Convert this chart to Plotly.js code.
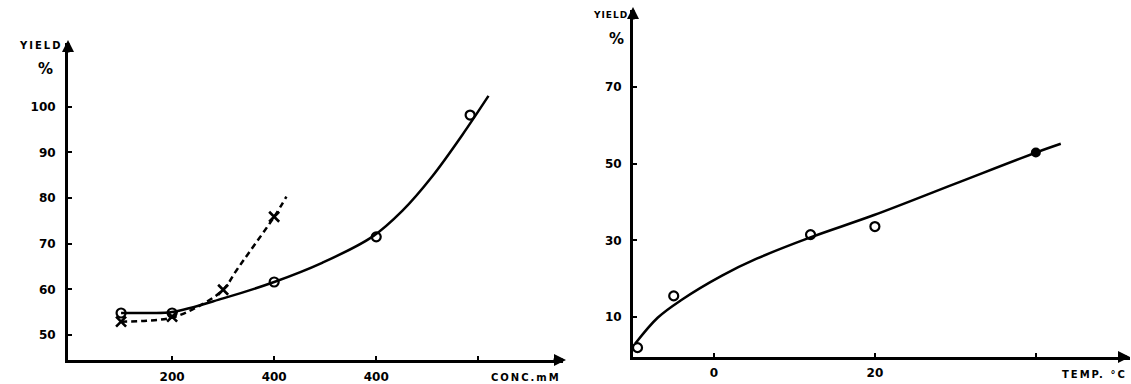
<!DOCTYPE html>
<html>
<head>
<meta charset="utf-8">
<script src="https://cdn.plot.ly/plotly-3.0.1.min.js"></script>
<style>html,body{margin:0;padding:0;background:#fff;}#chart{width:1131px;height:384px;}</style>
</head>
<body>
<div id="chart"></div>
<script>
// ---- Left panel: yield vs concentration ----
const concCircleX = [100, 200, 400, 600, 784];
const concCircleY = [54.8, 54.8, 61.6, 71.5, 98.2];
const concCrossX = [100, 200, 300, 400];
const concCrossY = [52.9, 54.0, 59.9, 75.9];
const concSolidX = [100, 150, 200, 300, 400, 494, 592, 651, 710, 769, 820];
const concSolidY = [54.8, 54.8, 55.0, 58.0, 61.6, 65.8, 71.5, 77.2, 84.8, 93.9, 102.4];
const concDashX = [100, 150, 200, 249, 300, 327, 353, 400, 424];
const concDashY = [52.9, 53.1, 53.8, 56.1, 59.9, 64.3, 68.4, 75.9, 80.3];
const concTickVals = [200, 400, 600, 800];
const concTickText = ["200", "400", "400", ""];
const yieldLeftTicks = [50, 60, 70, 80, 90, 100];

// ---- Right panel: yield vs temperature ----
const tempOpenX = [-9.5, -5, 12, 20];
const tempOpenY = [2.0, 15.5, 31.5, 33.6];
const tempFilledX = [40];
const tempFilledY = [52.9];
const tempCurveX = [-9.8, -7, -4, 1, 5.3, 11.9, 19.9, 30, 40, 43.1];
const tempCurveY = [3, 9.8, 14.5, 20.8, 25.2, 30.7, 36.6, 44.8, 52.9, 55.2];
const tempTickVals = [0, 20, 40];
const tempTickText = ["0", "20", ""];
const yieldRightTicks = [10, 30, 50, 70];

const W = 1131, H = 384;
const px = v => v / W;
const py = v => 1 - v / H;
const FONT = "DejaVu Sans, Liberation Sans, Arial, sans-serif";

const traces = [
  {x: concSolidX, y: concSolidY, xaxis: 'x', yaxis: 'y', mode: 'lines',
   line: {color: '#000', width: 2.5, shape: 'spline', smoothing: 1}, hoverinfo: 'skip'},
  {x: concDashX, y: concDashY, xaxis: 'x', yaxis: 'y', mode: 'lines',
   line: {color: '#000', width: 2.5, dash: '6px,4px', shape: 'spline', smoothing: 1}, hoverinfo: 'skip'},
  {x: concCircleX, y: concCircleY, xaxis: 'x', yaxis: 'y', mode: 'markers',
   marker: {symbol: 'circle-open', size: 9, color: '#000', line: {width: 2.2, color: '#000'}}},
  {x: concCrossX, y: concCrossY, xaxis: 'x', yaxis: 'y', mode: 'markers',
   marker: {symbol: 'x-thin-open', size: 10, color: '#000', line: {width: 2.6, color: '#000'}}},
  {x: tempCurveX, y: tempCurveY, xaxis: 'x2', yaxis: 'y2', mode: 'lines',
   line: {color: '#000', width: 2.5, shape: 'spline', smoothing: 1}, hoverinfo: 'skip'},
  {x: tempOpenX, y: tempOpenY, xaxis: 'x2', yaxis: 'y2', mode: 'markers',
   marker: {symbol: 'circle-open', size: 9, color: '#000', line: {width: 2.2, color: '#000'}}},
  {x: tempFilledX, y: tempFilledY, xaxis: 'x2', yaxis: 'y2', mode: 'markers',
   marker: {symbol: 'circle', size: 10, color: '#000'}}
];

const axisCommon = {
  showgrid: false, zeroline: false, showline: true, linecolor: '#000', linewidth: 3,
  ticks: 'inside', ticklen: 4, tickwidth: 2, tickcolor: '#000',
  tickfont: {family: FONT, size: 12, color: '#000', weight: 700},
  fixedrange: true
};

const tfont = (s) => ({family: FONT, size: s, color: '#000', weight: 700});
const spaced = (t, s) => '<span style="letter-spacing:' + s + 'px">' + t + '</span>';

const layout = {
  width: W, height: H,
  margin: {l: 0, r: 0, t: 0, b: 0},
  paper_bgcolor: '#fff', plot_bgcolor: '#fff',
  showlegend: false,
  xaxis: Object.assign({}, axisCommon, {domain: [px(68), px(563)], range: [-4, 966], anchor: 'y',
    tickmode: 'array', tickvals: concTickVals, ticktext: concTickText, ticklabelstandoff: 4}),
  yaxis: Object.assign({}, axisCommon, {domain: [py(360), py(43)], range: [44.5, 114], anchor: 'x',
    tickmode: 'array', tickvals: yieldLeftTicks, ticklabelstandoff: 7}),
  xaxis2: Object.assign({}, axisCommon, {domain: [px(633), px(1130)], range: [-10.06, 51.7], anchor: 'y2',
    tickmode: 'array', tickvals: tempTickVals, ticktext: tempTickText, ticklabelstandoff: 3}),
  yaxis2: Object.assign({}, axisCommon, {domain: [py(357), py(10)], range: [-0.44, 90.1], anchor: 'x2',
    tickmode: 'array', tickvals: yieldRightTicks, ticklabelstandoff: 6}),
  annotations: [
    // arrowheads
    {xref: 'paper', yref: 'paper', x: px(68), y: py(40), ax: 0, ay: 14, text: '', showarrow: true,
     arrowhead: 2, arrowsize: 0.8, arrowwidth: 3, arrowcolor: '#000'},
    {xref: 'paper', yref: 'paper', x: px(566), y: py(360), ax: -14, ay: 0, text: '', showarrow: true,
     arrowhead: 2, arrowsize: 0.8, arrowwidth: 3, arrowcolor: '#000'},
    {xref: 'paper', yref: 'paper', x: px(633), y: py(7), ax: 0, ay: 14, text: '', showarrow: true,
     arrowhead: 2, arrowsize: 0.8, arrowwidth: 3, arrowcolor: '#000'},
    {xref: 'paper', yref: 'paper', x: px(1131), y: py(357), ax: -14, ay: 0, text: '', showarrow: true,
     arrowhead: 2, arrowsize: 0.8, arrowwidth: 3, arrowcolor: '#000'},
    // titles
    {xref: 'paper', yref: 'paper', x: px(64), y: py(45), xanchor: 'right', yanchor: 'middle',
     text: spaced('YIELD', 2), showarrow: false, font: tfont(10)},
    {xref: 'paper', yref: 'paper', x: px(45), y: py(69), xanchor: 'center', yanchor: 'middle',
     text: '%', showarrow: false, font: tfont(15)},
    {xref: 'paper', yref: 'paper', x: px(563), y: py(377), xanchor: 'right', yanchor: 'middle',
     text: spaced('CONC.mM', 2), showarrow: false, font: tfont(10)},
    {xref: 'paper', yref: 'paper', x: px(630), y: py(15), xanchor: 'right', yanchor: 'middle',
     text: spaced('YIELD', 1), showarrow: false, font: tfont(9)},
    {xref: 'paper', yref: 'paper', x: px(616), y: py(39), xanchor: 'center', yanchor: 'middle',
     text: '%', showarrow: false, font: tfont(15)},
    {xref: 'paper', yref: 'paper', x: px(1129), y: py(374), xanchor: 'right', yanchor: 'middle',
     text: spaced('TEMP. °C', 2), showarrow: false, font: tfont(10)}
  ]
};

Plotly.newPlot('chart', traces, layout, {displayModeBar: false, staticPlot: true});
</script>
</body>
</html>
